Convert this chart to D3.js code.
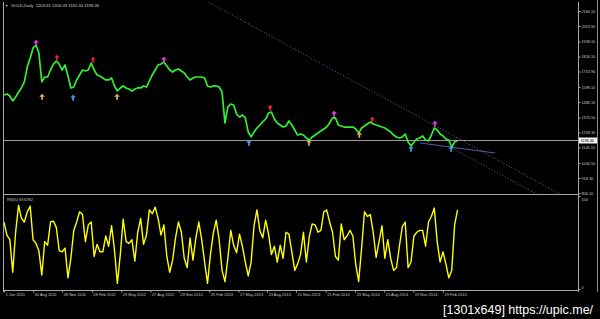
<!DOCTYPE html>
<html>
<head>
<meta charset="utf-8">
<script src="https://cdnjs.cloudflare.com/ajax/libs/d3/7.8.5/d3.min.js"></script>
<style>
body { margin: 0; background: #000; }
svg { display: block; }
</style>
</head>
<body>
<div id="chart"></div>
<script>
// daily gold closes, read every 9th calendar day from 1 Jun 2011
var startDate = "2011-06-01";
var stepDays = 9;

var closes = [1538, 1546, 1531, 1494, 1523, 1561, 1591, 1636, 1748, 1815,
    1890, 1912, 1852, 1636, 1673, 1673, 1725, 1770, 1792, 1770,
    1725, 1763, 1680, 1591, 1598, 1651, 1688, 1725, 1718, 1725,
    1777, 1725, 1688, 1680, 1665, 1651, 1651, 1665, 1606, 1568,
    1591, 1606, 1591, 1583, 1568, 1583, 1591, 1591, 1606, 1598,
    1643, 1688, 1725, 1763, 1770, 1785, 1755, 1725, 1710, 1725,
    1733, 1718, 1703, 1673, 1651, 1665, 1673, 1673, 1673, 1665,
    1606, 1598, 1606, 1606, 1598, 1561, 1329, 1449, 1471, 1464,
    1396, 1374, 1389, 1367, 1262, 1225, 1262, 1292, 1314, 1337,
    1359, 1404, 1411, 1359, 1329, 1314, 1299, 1307, 1344, 1314,
    1277, 1239, 1247, 1239, 1217, 1202, 1225, 1239, 1254, 1269,
    1284, 1299, 1329, 1367, 1367, 1314, 1307, 1299, 1299, 1299,
    1299, 1284, 1254, 1292, 1307, 1322, 1337, 1322, 1314, 1307,
    1299, 1292, 1277, 1262, 1239, 1225, 1217, 1225, 1247, 1187,
    1157, 1187, 1210, 1217, 1232, 1202, 1195, 1239, 1292, 1277,
    1247, 1232, 1210, 1202, 1150, 1187, 1198];

var rsiValues = [72, 58, 53, 18, 61, 90, 76, 72, 83, 89,
    53, 49, 41, 15, 51, 47, 72, 73, 66, 41,
    40, 44, 12, 33, 63, 72, 83, 80, 51, 69,
    72, 35, 48, 40, 40, 57, 46, 68, 42, 6,
    37, 75, 51, 49, 53, 30, 61, 76, 48, 58,
    85, 81, 88, 76, 58, 69, 35, 18, 31, 55,
    72, 61, 33, 23, 55, 31, 55, 72, 53, 29,
    6, 37, 60, 74, 53, 20, 8, 33, 63, 47,
    39, 59, 46, 29, 14, 29, 68, 85, 63, 55,
    74, 59, 37, 46, 29, 47, 33, 61, 59, 40,
    20, 27, 37, 61, 29, 56, 70, 69, 61, 63,
    83, 85, 72, 61, 35, 31, 70, 53, 57, 63,
    57, 26, 8, 44, 83, 78, 80, 61, 34, 51,
    68, 33, 53, 33, 20, 23, 46, 67, 72, 23,
    29, 57, 61, 63, 63, 46, 72, 78, 87, 51,
    29, 40, 27, 12, 20, 69, 85];

var tickDates = ["2011-06-01", "2011-08-30", "2011-11-28", "2012-02-28", "2012-05-29",
    "2012-08-27", "2012-11-23", "2013-02-25", "2013-05-27", "2013-08-23",
    "2013-11-21", "2014-02-21", "2014-05-23", "2014-08-21", "2014-11-19", "2015-02-19"];

var priceTicks = [2166.10, 2053.90, 1938.10, 1826.10, 1713.90, 1598.10, 1486.10,
    1370.50, 1258.30, 1146.10, 1030.50, 918.30, 806.10];

var rsiTicks = [0, 100];
var lastPrice = 1198.46;
var headerText = "GOLD,Daily  1203.61 1206.09 1192.44 1198.46";
var rsiText = "RSI(5) 69.6782";
var watermark = "[1301x649] https://upic.me/";

// arrow markers: [date, price]
var magentaArrows = [["2011-09-08", 1927], ["2012-10-08", 1800], ["2014-03-19", 1396], ["2015-01-25", 1322]];
var redArrows = [["2011-11-12", 1815], ["2012-03-03", 1800], ["2013-09-02", 1441], ["2014-07-15", 1352]];
var orangeArrows = [["2011-09-27", 1523], ["2012-05-16", 1523], ["2013-12-31", 1180], ["2014-06-05", 1239]];
var blueArrows = [["2012-01-01", 1516], ["2013-06-28", 1180], ["2014-11-12", 1135], ["2015-03-16", 1135]];

// trend lines: [start date, start price, end date, end price]
var dottedLines = [["2013-02-23", 2233, "2016-02-16", 799], ["2015-03-19", 1142, "2015-12-16", 784]];
var solidLines = [["2014-12-10", 1180, "2015-07-30", 1105]];

var width = 600, height = 319;
var parse = d3.utcParse("%Y-%m-%d");
var start = parse(startDate);

var priceData = closes.map(function (v, i) {
    return { date: d3.utcDay.offset(start, i * stepDays), v: v };
});
var rsiData = rsiValues.map(function (v, i) {
    return { date: d3.utcDay.offset(start, i * stepDays), v: v };
});

var x = d3.scaleUtc()
    .domain([parse(tickDates[0]), parse(tickDates[tickDates.length - 1])])
    .range([4, 443]);
var y = d3.scaleLinear().domain([806.1, 2166.1]).range([193, 11]);
var yRsi = d3.scaleLinear().domain([0, 100]).range([289, 196]);

var svg = d3.select("#chart")
    .append("svg")
    .attr("width", width)
    .attr("height", height)
    .style("background", "#000")
    .style("font-family", "'Liberation Sans', Arial, sans-serif");

var defs = svg.append("defs");
defs.append("clipPath").attr("id", "clipMain")
    .append("rect").attr("x", 4).attr("y", 2).attr("width", 574).attr("height", 192);
defs.append("clipPath").attr("id", "clipRsi")
    .append("rect").attr("x", 4).attr("y", 195).attr("width", 574).attr("height", 95);

// frame
var frame = [[3.5, 2, 3.5, 292], [578.5, 2, 578.5, 292], [3, 194.5, 578, 194.5], [3, 290.5, 578, 290.5]];
svg.selectAll(".frame")
    .data(frame)
    .enter()
    .append("line")
    .attr("class", "frame")
    .attr("x1", function (d) { return d[0]; })
    .attr("y1", function (d) { return d[1]; })
    .attr("x2", function (d) { return d[2]; })
    .attr("y2", function (d) { return d[3]; })
    .attr("stroke", "#a8a8a8")
    .attr("stroke-width", 1);

svg.append("line")
    .attr("x1", 597.5).attr("x2", 597.5)
    .attr("y1", 0).attr("y2", 292)
    .attr("stroke", "#8a8a8a");

var main = svg.append("g").attr("clip-path", "url(#clipMain)");

// current price line
main.append("line")
    .attr("x1", 4).attr("x2", 578)
    .attr("y1", Math.round(y(lastPrice)) + 0.5)
    .attr("y2", Math.round(y(lastPrice)) + 0.5)
    .attr("stroke", "#9a9a9a")
    .attr("stroke-width", 1);

main.selectAll(".dotted")
    .data(dottedLines)
    .enter()
    .append("line")
    .attr("x1", function (d) { return x(parse(d[0])); })
    .attr("y1", function (d) { return y(d[1]); })
    .attr("x2", function (d) { return x(parse(d[2])); })
    .attr("y2", function (d) { return y(d[3]); })
    .attr("stroke", "#6a6a9e")
    .attr("stroke-width", 1)
    .attr("stroke-dasharray", "1,2");

main.selectAll(".solid")
    .data(solidLines)
    .enter()
    .append("line")
    .attr("x1", function (d) { return x(parse(d[0])); })
    .attr("y1", function (d) { return y(d[1]); })
    .attr("x2", function (d) { return x(parse(d[2])); })
    .attr("y2", function (d) { return y(d[3]); })
    .attr("stroke", "#5060a8")
    .attr("stroke-width", 1);

var priceLine = d3.line()
    .x(function (d) { return x(d.date); })
    .y(function (d) { return y(d.v); });

main.append("path")
    .datum(priceData)
    .attr("d", priceLine)
    .attr("fill", "none")
    .attr("stroke", "#33ee33")
    .attr("stroke-width", 1.7)
    .attr("stroke-linejoin", "round");

// arrows
var arrowPath = "M0,-3.2 L2.8,-0.4 L0.9,-0.4 L0.9,2.8 L-0.9,2.8 L-0.9,-0.4 L-2.8,-0.4 Z";
function drawArrows(list, color) {
    main.selectAll(null)
        .data(list)
        .enter()
        .append("path")
        .attr("d", arrowPath)
        .attr("transform", function (d) {
            return "translate(" + x(parse(d[0])) + "," + y(d[1]) + ")";
        })
        .attr("fill", color);
}
drawArrows(magentaArrows, "#e040e0");
drawArrows(redArrows, "#e02828");
drawArrows(orangeArrows, "#d8b050");
drawArrows(blueArrows, "#3c9ee0");

// rsi
var rsiLine = d3.line()
    .x(function (d) { return x(d.date); })
    .y(function (d) { return yRsi(d.v); });

svg.append("g").attr("clip-path", "url(#clipRsi)")
    .append("path")
    .datum(rsiData)
    .attr("d", rsiLine)
    .attr("fill", "none")
    .attr("stroke", "#ffff00")
    .attr("stroke-width", 1.4)
    .attr("stroke-linejoin", "round");

// axes
var xAxis = svg.append("g")
    .attr("transform", "translate(0,290.5)")
    .call(d3.axisBottom(x)
        .tickValues(tickDates.map(parse))
        .tickFormat(d3.utcFormat("%-d %b %Y"))
        .tickSize(2));
xAxis.select(".domain").remove();
xAxis.selectAll("line").attr("stroke", "#a8a8a8");
xAxis.selectAll("text")
    .attr("y", 3)
    .attr("x", 1)
    .style("text-anchor", "start")
    .attr("fill", "#c8c8c8")
    .attr("font-size", "4px");

var yAxis = svg.append("g")
    .attr("transform", "translate(578.5,0)")
    .call(d3.axisRight(y)
        .tickValues(priceTicks)
        .tickFormat(d3.format(".2f"))
        .tickSize(2)
        .tickPadding(1));
yAxis.select(".domain").remove();
yAxis.selectAll("line").attr("stroke", "#a8a8a8");
yAxis.selectAll("text")
    .attr("fill", "#c8c8c8")
    .attr("font-size", "3.8px");

var rAxis = svg.append("g")
    .attr("transform", "translate(578.5,0)")
    .call(d3.axisRight(yRsi)
        .tickValues(rsiTicks)
        .tickFormat(d3.format("d"))
        .tickSize(2)
        .tickPadding(1));
rAxis.select(".domain").remove();
rAxis.selectAll("line").attr("stroke", "#a8a8a8");
rAxis.selectAll("text")
    .attr("fill", "#c8c8c8")
    .attr("font-size", "3.8px")
    .attr("dy", function (d) { return d === 100 ? "1.1em" : "-0.1em"; });

// last price box
svg.append("rect")
    .attr("x", 579)
    .attr("y", y(lastPrice) - 3)
    .attr("width", 18)
    .attr("height", 6)
    .attr("fill", "#f4f4f4");
svg.append("text")
    .attr("x", 580.5)
    .attr("y", y(lastPrice))
    .attr("dy", "0.35em")
    .attr("font-size", "3.8px")
    .attr("fill", "#000")
    .text(d3.format(".2f")(lastPrice));

// headers
svg.append("text")
    .attr("x", 5)
    .attr("y", 6.5)
    .attr("font-size", "3.4px")
    .attr("fill", "#d0d0d0")
    .text("\u25BC");
svg.append("text")
    .attr("x", 11)
    .attr("y", 6.5)
    .attr("font-size", "4.2px")
    .attr("fill", "#d0d0d0")
    .attr("xml:space", "preserve")
    .text(headerText);
svg.append("text")
    .attr("x", 7)
    .attr("y", 200.5)
    .attr("font-size", "3.8px")
    .attr("fill", "#d0d0d0")
    .text(rsiText);

// watermark
svg.append("text")
    .attr("x", 443)
    .attr("y", 314)
    .attr("font-size", "12.5px")
    .attr("fill", "#ffffff")
    .style("font-family", "'Liberation Sans', Arial, sans-serif")
    .text(watermark);
</script>
</body>
</html>
